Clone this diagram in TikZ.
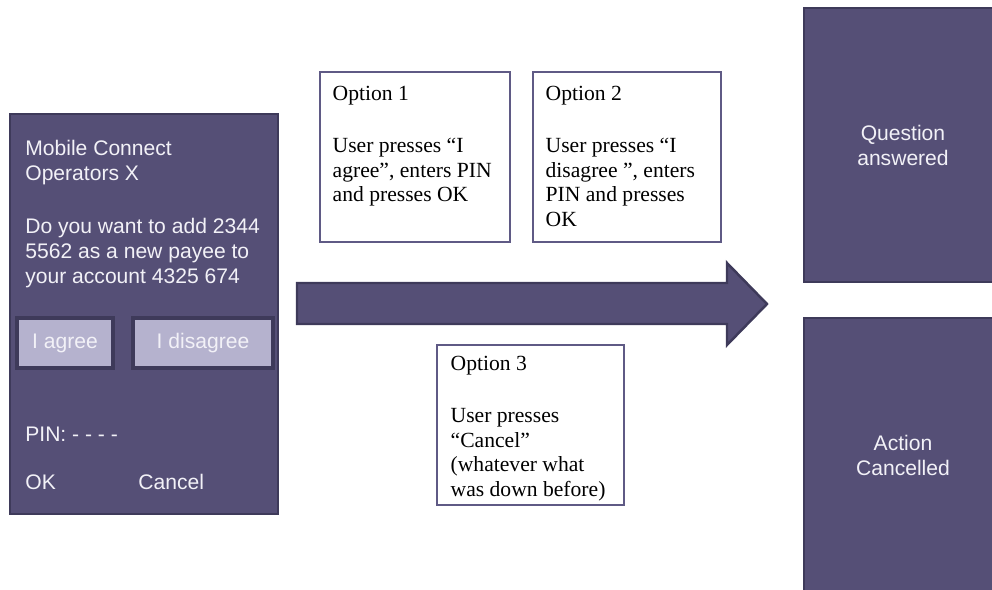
\documentclass[tikz,border=0pt]{standalone}
\usepackage{fontspec}
\setmainfont{Liberation Serif}
\setsansfont{Liberation Sans}
\usepackage{xcolor}
\usetikzlibrary{positioning}
\definecolor{phonefill}{RGB}{85,79,118}
\definecolor{phoneedge}{RGB}{62,58,90}
\definecolor{btnfill}{RGB}{181,178,206}
\definecolor{optedge}{RGB}{95,90,133}
\definecolor{lighttext}{RGB}{242,241,247}

\begin{document}
\begin{tikzpicture}[x=0.02cm, y=-0.02cm,
  screen/.style={draw=phoneedge, fill=phonefill, line width=1.4pt, inner sep=0pt},
  btn/.style={draw=phoneedge, fill=btnfill, line width=1.8pt, minimum height=1cm, inner sep=0pt,
    text=lighttext, font=\sffamily\fontsize{12}{14.2}\selectfont},
  scrtext/.style={inner sep=0pt, align=left, text=lighttext, font=\sffamily\fontsize{12}{14.2}\selectfont},
  optbox/.style={draw=optedge, line width=0.8pt, minimum height=3.4cm, inner sep=0pt},
  opttext/.style={inner sep=0pt, align=left, font=\fontsize{12.3}{13.9}\selectfont},
  result/.style={screen, minimum width=3.96cm, minimum height=5.48cm, align=center,
    text=lighttext, font=\sffamily\fontsize{12}{14.2}\selectfont}]
\useasboundingbox (0,0) rectangle (992,590);
\clip (0,0) rectangle (992,590);

\node[screen, minimum width=5.36cm, minimum height=8cm] (phone) at (144,314) {};
\node[scrtext, anchor=north west] (title) at (25,140) {Mobile Connect\\Operators X};
\node[scrtext, anchor=north west] (question) at (25,218) {Do you want to add 2344\\5562 as a new payee to\\your account 4325 674};
\node[btn, minimum width=1.92cm] (agree) at (65,343) {I agree};
\node[btn, minimum width=2.8cm] (disagree) at (203,343) {I disagree};
\node[scrtext, anchor=west] (pin) at (25,434) {PIN: - - - -};
\node[scrtext, anchor=west] (ok) at (25,482) {OK};
\node[scrtext, anchor=west] (cancel) at (138,482) {Cancel};

\draw[screen] (297,283) -- (727,283) -- (727,263) -- (767,304) -- (727,345) -- (727,324) -- (297,324) -- cycle;

\node[optbox, minimum width=3.8cm] (opt1) at (415,157) {};
\node[optbox, minimum width=3.76cm] (opt2) at (627,157) {};
\node[optbox, minimum width=3.74cm, minimum height=3.2cm] (opt3) at (530.5,425) {};
\node[opttext, anchor=north west] (opt1txt) at ([shift={(13,15)}]opt1.north west) {Option 1\\[15.6pt]User presses “I\\agree”, enters PIN\\and presses OK};
\node[opttext, anchor=north west] (opt2txt) at ([shift={(13,15)}]opt2.north west) {Option 2\\[15.6pt]User presses “I\\disagree ”, enters\\PIN and presses\\OK};
\node[opttext, anchor=north west] (opt3txt) at ([shift={(14,12)}]opt3.north west) {Option 3\\[15.6pt]User presses\\“Cancel”\\(whatever what\\was down before)};

\node[result] (answered) at (903,145) {Question\\answered};
\node[result] (cancelled) at (903,455) {Action\\Cancelled};
\end{tikzpicture}
\end{document}
